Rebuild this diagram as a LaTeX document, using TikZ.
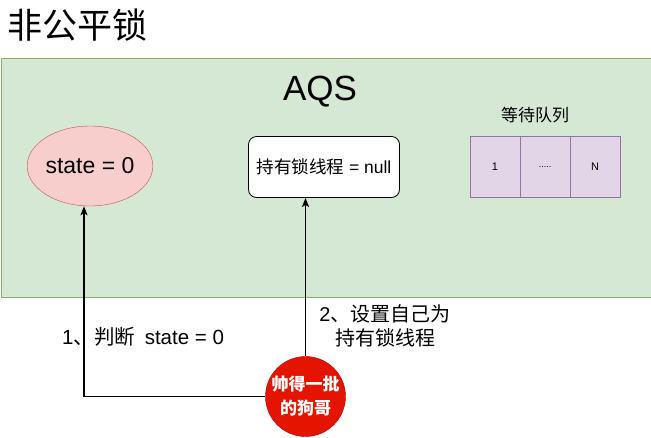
\documentclass[tikz,border=0pt]{standalone}
\usepackage{fontspec}
\setmainfont{Liberation Sans}
\newfontfamily\cjk{Noto Sans CJK SC}
\usetikzlibrary{arrows.meta,shapes.geometric}
\definecolor{grfill}{HTML}{D5E8D4}
\definecolor{grline}{HTML}{82B366}
\definecolor{rdfill}{HTML}{F8CECC}
\definecolor{rdline}{HTML}{B85450}
\definecolor{pufill}{HTML}{E1D5E7}
\definecolor{puline}{HTML}{9673A6}
\definecolor{bigred}{HTML}{E51400}
\definecolor{bigredline}{HTML}{B20000}
\tikzset{
  conn/.style={draw=black, line width=1.6pt, -{Stealth[length=9pt,width=7pt,inset=2pt]}},
  cell/.style={draw=puline, fill=pufill, minimum width=50pt, minimum height=61pt, inner sep=0pt, font=\fontsize{11}{13}\selectfont},
  lbl/.style={font=\fontsize{20}{24}\selectfont, align=center, inner sep=0pt}
}
\begin{document}
\begin{tikzpicture}[x=1pt,y=-1pt]
\useasboundingbox (0,0) rectangle (651,437);
\fill[white] (0,0) rectangle (651,437);
\node[anchor=west, inner sep=0pt, font=\fontsize{35}{40}\selectfont\cjk] (title) at (7,25) {非公平锁};
\node[draw=grline, fill=grfill, line width=0.8pt, minimum width=650pt, minimum height=239pt, inner sep=0pt, anchor=north west] (aqsbox) at (0.5,57.5) {};
\node[font=\fontsize{35}{40}\selectfont, inner sep=0pt] (aqs) at (320,92) {AQS};
\node[draw=rdline, fill=rdfill, ellipse, minimum width=120pt, minimum height=80pt, inner sep=0pt, font=\fontsize{23}{27}\selectfont] (state) at (90,166) {state = 0};
\node[draw=black, fill=white, rounded corners=8pt, minimum width=151pt, minimum height=61pt, inner sep=0pt, line width=0.8pt, font=\fontsize{17.5}{20}\selectfont] (owner) at (324,167) {{\cjk 持有锁线程} = null};
\node[font=\fontsize{17}{20}\selectfont\cjk, inner sep=0pt] (qt) at (535,115) {等待队列};
\node[cell] (c1) at (495,167) {1};
\node[cell] (c2) at (545,167) {\fontsize{9}{11}\selectfont .....};
\node[cell] (c3) at (595,167) {N};
\node[circle, draw=bigredline, fill=bigred, minimum size=80pt, inner sep=0pt, text=white, align=center, font=\fontsize{17}{24}\selectfont\cjk\bfseries] (me) at (305.5,396.5) {帅得一批\\的狗哥};
\coordinate (corner) at (84,396.5);
\draw[conn] (me.west) -- (corner) -- (state.south -| corner);
\draw[conn] (me.north) -- (owner.south -| me.north);
\node[lbl, anchor=west, font=\fontsize{20.5}{24}\selectfont] (l1) at (62,337) {1{\cjk 、判断}\hspace{4pt} state = 0};
\node[lbl] (l2) at (385,326) {2{\cjk 、设置自己为}\\{\cjk 持有锁线程}};
\end{tikzpicture}
\end{document}
